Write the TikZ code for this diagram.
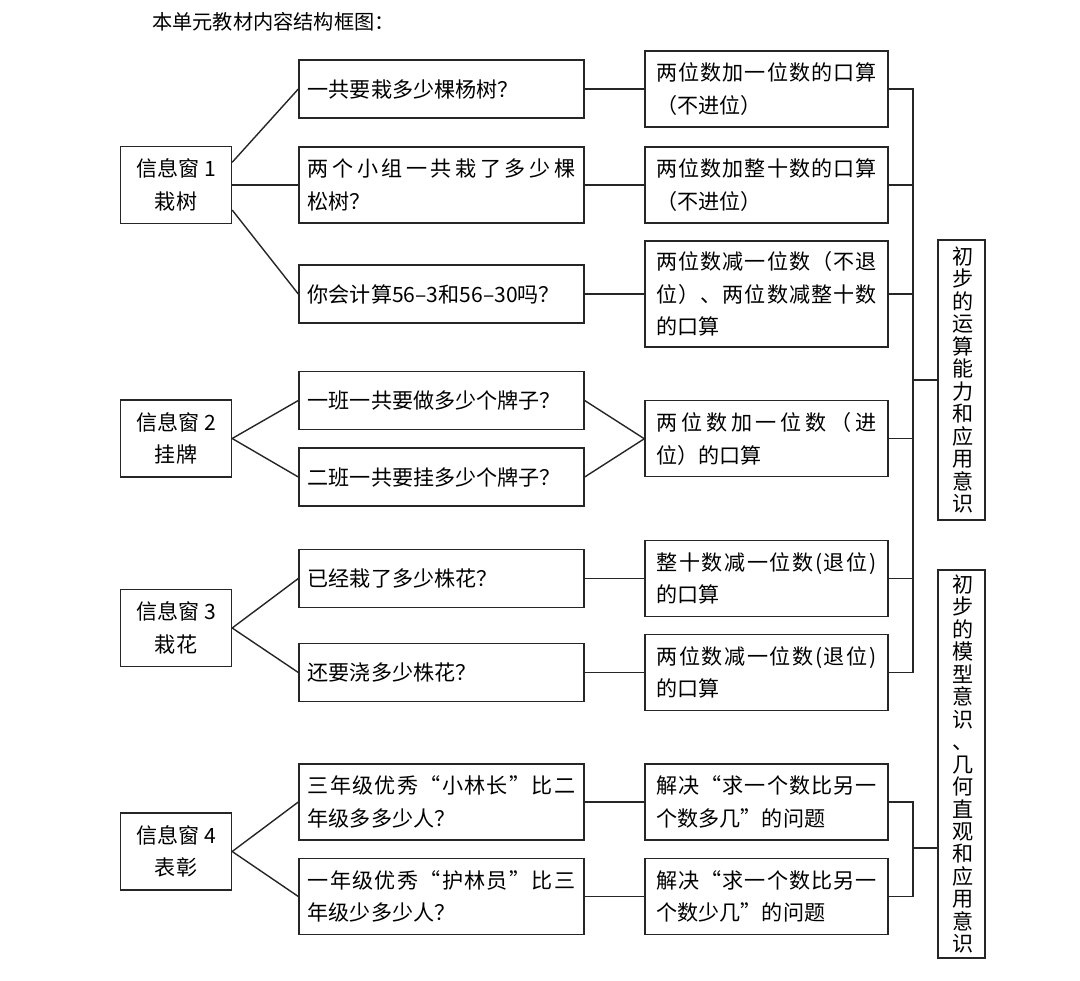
\documentclass[tikz,border=0pt]{standalone}
\usepackage{fontspec}
\setmainfont{Noto Sans CJK SC}

% spread the characters of one line over the full line width
\newcommand\spr[1]{\makebox[\linewidth][s]{\sprx#1\relax}}
\def\sprx#1#2{#1\ifx\relax#2\else\hfill\expandafter\sprx\expandafter#2\fi}

\begin{document}
\begin{tikzpicture}[
  x=0.02cm, y=-0.02cm,
  font=\fontsize{12}{18.5}\selectfont,
  win/.style={draw=black!85, line width=0.8pt, minimum width=2.22cm,
              minimum height=1.54cm, align=center, inner sep=2pt},
  qbox/.style={draw=black!85, line width=0.8pt, text width=5.35cm,
               minimum height=1.16cm, align=left, inner xsep=0.175cm, inner ysep=2pt},
  abox/.style={draw=black!85, line width=0.8pt, text width=4.4cm,
               minimum height=1.52cm, align=left, inner xsep=0.23cm, inner ysep=2pt},
  gbox/.style={draw=black!85, line width=0.8pt, text width=1em, minimum width=0.94cm,
               align=center, inner sep=1pt, font=\fontsize{12}{12.8}\selectfont},
  ln/.style={draw=black!85, line width=0.8pt},
]

  \useasboundingbox (0,0) rectangle (1080,981);

  \def\xW{176}     % info windows
  \def\xQ{441.5}   % questions
  \def\xA{766.5}   % calculations
  \def\xB{913}     % collecting lines
  \def\xG{961.5}   % goals

  \node[anchor=west, font=\fontsize{11.5}{14}\selectfont] (title) at (146,22)
    {本单元教材内容结构框图：};

  % --- Info windows ---
  \node[win] (w1) at (\xW,185)   {信息窗 1\\栽树};
  \node[win] (w2) at (\xW,438.5) {信息窗 2\\挂牌};
  \node[win] (w3) at (\xW,628)   {信息窗 3\\栽花};
  \node[win] (w4) at (\xW,851.5) {信息窗 4\\表彰};

  % --- Questions ---
  \node[qbox] (q1) at (\xQ,89)    {一共要栽多少棵杨树？};
  \node[qbox, minimum height=1.52cm] (q2) at (\xQ,185)
    {\spr{两个小组一共栽了多少棵}\\松树？};
  \node[qbox] (q3) at (\xQ,294)   {你会计算56–3和56–30吗？};
  \node[qbox] (q4) at (\xQ,400.5) {一班一共要做多少个牌子？};
  \node[qbox] (q5) at (\xQ,477)   {二班一共要挂多少个牌子？};
  \node[qbox] (q6) at (\xQ,578.5) {已经栽了多少株花？};
  \node[qbox] (q7) at (\xQ,672.5) {还要浇多少株花？};
  \node[qbox, minimum height=1.52cm] (q8) at (\xQ,802)
    {\spr{三年级优秀“小林长”比二}\\年级多多少人？};
  \node[qbox, minimum height=1.52cm] (q9) at (\xQ,896.5)
    {\spr{一年级优秀“护林员”比三}\\年级少多少人？};

  % --- Calculations ---
  \node[abox] (a1) at (\xA,89)     {\spr{两位数加一位数的口算}\\（不进位）};
  \node[abox] (a2) at (\xA,185)    {\spr{两位数加整十数的口算}\\（不进位）};
  \node[abox, minimum height=2.12cm] (a3) at (\xA,294)
    {\spr{两位数减一位数（不退}\\\spr{位）、两位数减整十数}\\的口算};
  \node[abox] (a4) at (\xA,438.75) {\spr{两位数加一位数（进}\\位）的口算};
  \node[abox] (a5) at (\xA,578.5)  {\spr{整十数减一位数(退位)}\\的口算};
  \node[abox] (a6) at (\xA,672.5)  {\spr{两位数减一位数(退位)}\\的口算};
  \node[abox] (a7) at (\xA,802)    {\spr{解决“求一个数比另一}\\个数多几”的问题};
  \node[abox] (a8) at (\xA,896.5)  {\spr{解决“求一个数比另一}\\个数少几”的问题};

  % --- Goals ---
  \node[gbox, minimum height=5.6cm] (r1) at (\xG,380)
    {初\\步\\的\\运\\算\\能\\力\\和\\应\\用\\意\\识};
  \node[gbox, minimum height=7.76cm] (r2) at (\xG,764)
    {初\\步\\的\\模\\型\\意\\识\\、\\几\\何\\直\\观\\和\\应\\用\\意\\识};

  % --- Windows to questions ---
  \draw[ln] (w1.22) -- (q1.west);
  \draw[ln] (w1.east) -- (q2.west);
  \draw[ln] (w1.-24) -- (q3.west);
  \foreach \q in {4,5} \draw[ln] (w2.east) -- (q\q.west);
  \foreach \q in {6,7} \draw[ln] (w3.east) -- (q\q.west);
  \foreach \q in {8,9} \draw[ln] (w4.east) -- (q\q.west);

  % --- Questions to calculations ---
  \foreach \q/\a in {1/1,2/2,3/3,4/4,5/4,6/5,7/6,8/7,9/8}
    \draw[ln] (q\q.east) -- (a\a.west);

  % --- Calculations to goals ---
  \coordinate (b1) at (\xB,380);
  \coordinate (b2) at (\xB,848);
  \draw[ln] (a1.east) -| (b1) |- (a6.east);
  \foreach \a in {2,3,4,5}
    \draw[ln] (a\a.east) -- (a\a.east -| b1);
  \draw[ln] (b1) -- (r1.west);
  \draw[ln] (a7.east) -| (b2) |- (a8.east);
  \draw[ln] (b2) -- (b2 -| r2.west);

\end{tikzpicture}
\end{document}
